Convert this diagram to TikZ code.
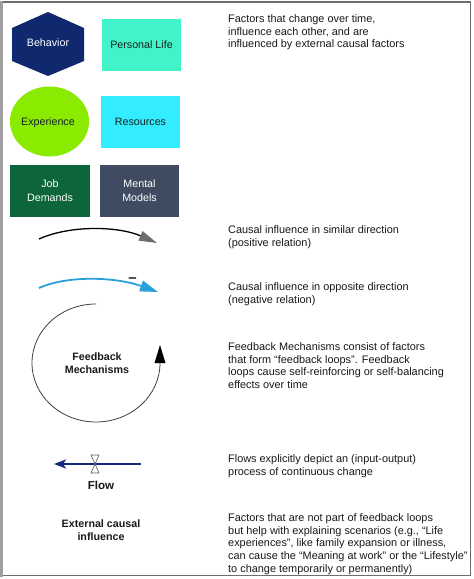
\documentclass[tikz,border=0pt]{standalone}
\usepackage{fontspec}
\setmainfont{Liberation Sans}
\usetikzlibrary{arrows.meta,shapes.geometric}
\definecolor{navyhex}{RGB}{16,40,110}
\definecolor{plcol}{RGB}{66,242,200}
\definecolor{expcol}{RGB}{138,234,0}
\definecolor{rescol}{RGB}{52,236,255}
\definecolor{jobcol}{RGB}{12,102,58}
\definecolor{mentcol}{RGB}{62,75,96}
\definecolor{txt}{RGB}{25,25,25}
\definecolor{lbltxt}{RGB}{20,35,35}
\definecolor{bluearr}{RGB}{40,160,218}
\definecolor{flownavy}{RGB}{18,42,125}
\definecolor{framegray}{RGB}{110,110,110}
\begin{document}
\begin{tikzpicture}[x=1pt,y=1pt,
  desc/.style={anchor=north west, inner sep=0pt, align=left, text=txt,
    font=\fontsize{10.9}{12.9}\selectfont},
  lbl/.style={inner sep=0pt, align=center, text=lbltxt,
    font=\fontsize{10.7}{14}\selectfont},
  wlbl/.style={lbl, text=white},
  blbl/.style={inner sep=0pt, align=center, text=txt,
    font=\fontsize{10.7}{12.5}\selectfont\bfseries},
  box/.style={rectangle, draw=none, inner sep=0pt, minimum width=79pt, minimum height=52pt},
  posarr/.style={draw=black, line width=1.3pt, -{Triangle[length=18pt,width=10pt,color=gray!85!black]}},
  negarr/.style={draw=bluearr, line width=1.8pt, -{Triangle[length=18pt,width=11pt]}},
  flowarr/.style={draw=flownavy, line width=2.6pt, -{Stealth[length=12pt,width=9pt,inset=3pt]}},
  valve/.style={fill=white, draw=black!65, line width=0.6pt, line join=miter}
]
\useasboundingbox (0,0) rectangle (474,-579);
\fill[white] (0,0) rectangle (474,-579);

% frame
\fill[gray!75] (0,-0.5) rectangle (3,-577);
\draw[framegray, line width=1.3pt] (3,-2) -- (470.5,-2) -- (470.5,-575.5) -- (3,-575.5);

% factor shapes
\fill[navyhex] (48,-12) -- (84,-28) -- (84,-61) -- (48,-76) -- (12,-61) -- (12,-28) -- cycle;
\node[wlbl] (beh) at (48,-43) {Behavior};
\node[box, fill=plcol] (pl) at (141.5,-45) {};
\node[lbl] (pltext) at (pl.center) {Personal Life};
\node[ellipse, draw=none, fill=expcol, inner sep=0pt, minimum width=79pt, minimum height=70pt] (exp) at (49.5,-121.5) {};
\node[lbl] (exptext) at (48,-123) {Experience};
\node[box, fill=rescol] (res) at (140.5,-122) {};
\node[lbl] (restext) at (res.center) {Resources};
\node[box, fill=jobcol, minimum width=80pt] (job) at (50,-191) {};
\node[wlbl] (jobtext) at (job.center) {Job\\Demands};
\node[box, fill=mentcol] (ment) at (139.5,-191) {};
\node[wlbl] (menttext) at (ment.center) {Mental\\Models};

% descriptions
\node[desc] (d1) at (228,-14) {Factors that change over time,\\influence each other, and are\\influenced by external causal factors};
\node[desc] (d2) at (228,-225) {Causal influence in similar direction\\(positive relation)};
\node[desc] (d3) at (228,-282) {Causal influence in opposite direction\\(negative relation)};
\node[desc] (d4) at (228,-342) {Feedback Mechanisms consist of factors\\that form “feedback loops”. Feedback\\loops cause self-reinforcing or self-balancing\\effects over time};
\node[desc] (d5) at (228,-454) {Flows explicitly depict an (input-output)\\process of continuous change};
\node[desc] (d6) at (228,-513) {Factors that are not part of feedback loops\\but help with explaining scenarios (e.g., “Life\\experiences”, like family expansion or illness,\\can cause the “Meaning at work” or the “Lifestyle”\\to change temporarily or permanently)};

% positive arrow
\coordinate (ps) at (39,-239);
\coordinate (pe) at (157,-243);
\draw[posarr] (ps) .. controls (70,-225) and (118,-226) .. (pe);

% negative arrow
\coordinate (ns) at (39,-288);
\coordinate (ne) at (158,-292);
\draw[negarr] (ns) .. controls (68,-275) and (116,-277) .. (ne);
\node[inner sep=0pt, text=txt, font=\fontsize{15}{15}\selectfont\bfseries] (minus) at (132.5,-280) {–};

% feedback loop
\coordinate (fbs) at (96,-304);
\draw[black!75, line width=0.8pt] (fbs) arc[start angle=90, end angle=360, x radius=64, y radius=59];
\fill[black] (154.5,-363) -- (160,-345) -- (165.5,-363) -- cycle;
\node[blbl] (fb) at (97,-363) {Feedback\\Mechanisms};

% flow
\coordinate (flows) at (141,-464);
\coordinate (flowe) at (54,-464);
\draw[flowarr] (flows) -- (flowe);
\draw[valve] (91,-455) -- (99,-455) -- (95,-464) -- cycle;
\draw[valve] (91,-473) -- (99,-473) -- (95,-464) -- cycle;
\node[blbl, font=\fontsize{11.6}{13}\selectfont\bfseries] (flow) at (101,-485) {Flow};

% external
\node[blbl, font=\fontsize{10.7}{13}\selectfont\bfseries] (ext) at (101,-530) {External causal\\influence};
\end{tikzpicture}
\end{document}
